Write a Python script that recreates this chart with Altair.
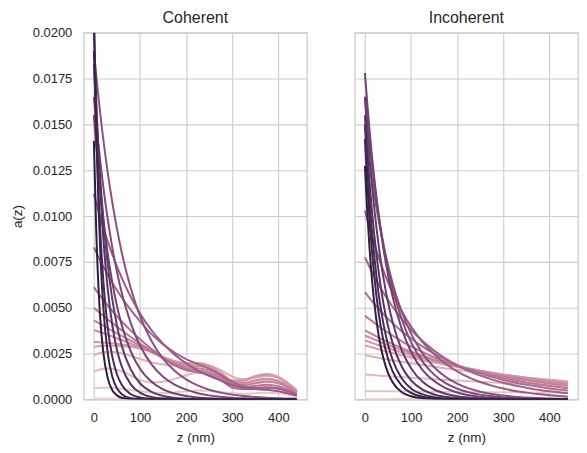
import math
import altair as alt
import pandas as pd

Z_NM = [0, 5, 10, 15, 20, 30, 40, 50, 60, 80, 100, 125, 150, 175, 200,
        225, 250, 275, 300, 325, 350, 375, 400, 420, 440]

# a(z) values below are given in units of 1e-4 per nm
UNIT = 1e-4

# one list per curve, lightest hue first, darkest last
COHERENT = [
    [0.5, 0.5, 0.5, 0.5, 0.5, 0.5, 0.5, 0.4, 0.4, 0.4, 0.3, 0.3, 0.3, 0.4, 0.4, 0.4, 0.4, 0.3, 0.3, 0.3, 0.3, 0.3, 0.3, 0.2, 0.2],
    [6.0, 6.1, 6.3, 6.4, 6.4, 6.4, 6.3, 6.1, 5.8, 5.1, 4.4, 3.7, 3.5, 3.8, 4.4, 4.8, 4.7, 4.0, 3.3, 3.1, 3.4, 3.6, 3.3, 2.7, 2.0],
    [15.0, 15.5, 16.0, 16.4, 16.7, 16.9, 16.7, 16.1, 15.3, 13.0, 10.5, 9.2, 9.6, 11.2, 13.2, 14.5, 14.0, 12.0, 9.6, 8.7, 9.6, 10.5, 9.6, 7.2, 3.8],
    [24.1, 24.6, 25.0, 25.4, 25.7, 26.0, 26.0, 25.7, 25.2, 23.8, 22.0, 20.2, 19.0, 18.5, 18.6, 18.9, 18.3, 16.0, 12.5, 11.0, 11.8, 12.8, 12.0, 9.0, 5.0],
    [28.6, 28.8, 29.0, 29.1, 29.2, 29.3, 29.3, 29.2, 29.0, 28.5, 27.6, 25.8, 23.0, 20.6, 19.6, 19.8, 18.5, 14.8, 10.5, 10.6, 12.8, 13.9, 12.2, 9.0, 4.8],
    [31.3, 31.3, 31.2, 31.1, 31.0, 30.8, 30.6, 30.3, 30.0, 29.2, 28.0, 26.0, 23.2, 21.0, 19.8, 19.6, 18.2, 14.3, 10.0, 10.2, 12.4, 13.4, 11.8, 8.7, 4.6],
    [37.7, 37.4, 37.0, 36.6, 36.2, 35.3, 34.3, 33.3, 32.4, 30.4, 28.4, 25.8, 22.8, 20.2, 18.6, 18.2, 17.0, 13.6, 9.4, 9.0, 10.4, 11.2, 10.0, 7.4, 4.2],
    [43.1, 42.4, 41.7, 41.0, 40.3, 38.8, 37.4, 36.0, 34.7, 32.0, 29.3, 26.0, 22.5, 19.5, 17.6, 17.0, 15.8, 12.8, 8.4, 7.8, 8.8, 9.6, 8.8, 6.6, 3.8],
    [50.0, 48.9, 47.8, 46.7, 45.7, 43.6, 41.6, 39.6, 37.7, 34.0, 30.4, 26.4, 22.4, 19.0, 16.7, 15.8, 14.6, 11.8, 7.4, 6.6, 7.4, 8.0, 7.2, 5.4, 3.0],
    [61.2, 59.4, 57.7, 56.0, 54.4, 51.2, 48.2, 45.3, 42.6, 37.5, 32.8, 27.5, 22.6, 18.6, 16.0, 14.8, 13.4, 10.6, 6.4, 5.6, 6.0, 6.4, 5.8, 4.4, 2.6],
    [82.9, 80.2, 77.6, 75.0, 72.6, 68.0, 63.6, 59.5, 55.7, 48.8, 42.6, 35.6, 30.0, 25.5, 22.0, 19.4, 16.8, 13.4, 9.5, 7.0, 6.4, 6.6, 6.0, 4.6, 2.6],
    [112.0, 107.3, 102.7, 98.3, 94.1, 86.2, 79.1, 72.5, 66.5, 55.9, 46.9, 37.7, 30.4, 24.4, 19.7, 15.8, 12.8, 10.2, 7.8, 6.2, 5.6, 5.2, 4.4, 3.4, 1.9],
    [190, 176.9, 164.7, 153.3, 142.7, 123.7, 107.4, 93.1, 80.6, 60.6, 45.6, 31.9, 22.2, 15.6, 10.9, 7.6, 5.3, 3.7, 2.6, 1.8, 1.3, 0.9, 0.6, 0.5, 0.4],
    [165, 151.3, 138.9, 127.4, 116.8, 98.3, 82.8, 69.6, 58.6, 41.6, 29.4, 19.1, 12.4, 8.1, 5.3, 3.4, 2.2, 1.4, 0.9, 0.6, 0.4, 0.25, 0.15, 0.1, 0.1],
    [155, 138.7, 124.2, 111.1, 99.4, 79.5, 63.7, 51.0, 40.9, 26.2, 16.7, 9.6, 5.5, 3.2, 1.8, 1.0, 0.6, 0.35, 0.2, 0.1, 0.05, 0, 0, 0, 0],
    [183, 157.2, 135.2, 116.2, 99.9, 73.7, 54.5, 40.3, 29.6, 16.3, 8.8, 4.1, 1.9, 0.9, 0.4, 0.2, 0.1, 0.05, 0, 0, 0, 0, 0, 0, 0],
    [200, 163.8, 134.0, 109.8, 89.8, 60.2, 40.4, 27.0, 18.2, 8.2, 3.7, 1.3, 0.5, 0.2, 0.05, 0, 0, 0, 0, 0, 0, 0, 0, 0, 0],
    [190, 146.1, 112.3, 86.3, 66.3, 39.1, 23.2, 13.7, 8.1, 2.8, 1.0, 0.3, 0.1, 0, 0, 0, 0, 0, 0, 0, 0, 0, 0, 0, 0],
    [215, 150.5, 105.4, 73.7, 51.6, 25.2, 12.3, 6.0, 3.0, 0.7, 0.2, 0.05, 0, 0, 0, 0, 0, 0, 0, 0, 0, 0, 0, 0, 0],
    [141, 93, 61, 40, 26.6, 11.6, 5.0, 2.2, 0.9, 0.2, 0.05, 0, 0, 0, 0, 0, 0, 0, 0, 0, 0, 0, 0, 0, 0],
]

INCOHERENT = [
    [0.2, 0.2, 0.2, 0.2, 0.2, 0.2, 0.2, 0.2, 0.2, 0.2, 0.2, 0.2, 0.2, 0.2, 0.2, 0.2, 0.2, 0.2, 0.2, 0.2, 0.2, 0.2, 0.2, 0.2, 0.2],
    [4.5, 4.5, 4.5, 4.5, 4.5, 4.4, 4.4, 4.4, 4.4, 4.3, 4.3, 4.2, 4.2, 4.1, 4.1, 4.0, 4.0, 3.9, 3.9, 3.9, 3.8, 3.8, 3.7, 3.7, 3.7],
    [13.6, 13.5, 13.4, 13.3, 13.2, 13.0, 12.8, 12.7, 12.5, 12.2, 11.8, 11.4, 11.0, 10.6, 10.3, 9.9, 9.6, 9.3, 9.0, 8.6, 8.3, 8.0, 7.8, 7.6, 7.4],
    [24.1, 23.9, 23.6, 23.4, 23.1, 22.7, 22.2, 21.8, 21.3, 20.5, 19.7, 18.7, 17.8, 16.9, 16.1, 15.3, 14.5, 13.8, 13.1, 12.5, 11.8, 11.3, 10.7, 10.3, 9.8],
    [29.5, 29.1, 28.8, 28.4, 28.0, 27.3, 26.6, 25.9, 25.3, 24.0, 22.8, 21.4, 20.1, 18.8, 17.6, 16.5, 15.5, 14.5, 13.6, 12.8, 12.0, 11.2, 10.6, 10.0, 9.5],
    [32.2, 31.7, 31.3, 30.8, 30.4, 29.5, 28.7, 27.9, 27.1, 25.6, 24.1, 22.4, 20.9, 19.4, 18.1, 16.8, 15.6, 14.6, 13.5, 12.6, 11.7, 10.9, 10.1, 9.6, 9.0],
    [34.9, 34.3, 33.8, 33.2, 32.7, 31.7, 30.6, 29.7, 28.7, 26.9, 25.2, 23.2, 21.4, 19.8, 18.2, 16.8, 15.5, 14.2, 13.1, 12.1, 11.2, 10.3, 9.5, 8.9, 8.3],
    [37.7, 37.0, 36.3, 35.7, 35.0, 33.7, 32.5, 31.3, 30.2, 28.0, 26.1, 23.8, 21.7, 19.8, 18.0, 16.4, 15.0, 13.6, 12.5, 11.3, 10.4, 9.5, 8.6, 8.0, 7.4],
    [45.8, 44.7, 43.7, 42.8, 41.8, 39.9, 38.1, 36.4, 34.8, 31.7, 28.9, 25.8, 23.0, 20.5, 18.3, 16.3, 14.6, 13.0, 11.6, 10.3, 9.2, 8.2, 7.3, 6.7, 6.1],
    [58.5, 56.9, 55.3, 53.7, 52.2, 49.3, 46.6, 44.0, 41.6, 37.1, 33.2, 28.8, 24.9, 21.6, 18.8, 16.3, 14.2, 12.3, 10.6, 9.2, 8.0, 7.0, 6.0, 5.4, 4.8],
    [77.5, 74.8, 72.2, 69.6, 67.2, 62.5, 58.2, 54.3, 50.5, 43.8, 38.0, 31.8, 26.6, 22.2, 18.6, 15.5, 13.0, 10.9, 9.1, 7.6, 6.4, 5.3, 4.4, 3.9, 3.3],
    [102.9, 98.1, 93.5, 89.2, 85.1, 77.3, 70.3, 63.9, 58.1, 48.1, 39.7, 31.3, 24.7, 19.4, 15.3, 12.0, 9.5, 7.5, 5.9, 4.6, 3.7, 2.9, 2.3, 1.9, 1.5],
    [149.6, 139.3, 129.7, 120.7, 112.3, 97.4, 84.5, 73.3, 63.4, 47.7, 35.9, 25.1, 17.5, 12.3, 8.6, 6.0, 4.2, 2.9, 2.1, 1.4, 1.0, 0.7, 0.5, 0.4, 0.3],
    [165, 151.8, 139.6, 128.5, 118.3, 100.2, 84.6, 71.8, 60.7, 43.6, 31.2, 20.6, 13.5, 8.9, 5.9, 3.9, 2.6, 1.7, 1.1, 0.7, 0.5, 0.3, 0.2, 0.15, 0.1],
    [178, 161.6, 146.9, 133.3, 121.2, 100.0, 82.4, 68.0, 56.1, 38.3, 26.0, 16.0, 10.0, 6.2, 3.8, 2.3, 1.5, 0.9, 0.55, 0.35, 0.2, 0.13, 0.08, 0.05, 0.04],
    [165, 147.3, 131.5, 117.3, 104.8, 83.5, 66.5, 53.0, 42.2, 26.7, 17.0, 9.6, 5.4, 3.1, 1.75, 1.0, 0.56, 0.3, 0.2, 0.1, 0.05, 0, 0, 0, 0],
    [155, 135.5, 118.3, 103.4, 90.4, 69.0, 52.5, 40.1, 30.7, 17.8, 10.4, 5.3, 2.7, 1.4, 0.7, 0.35, 0.2, 0.1, 0.05, 0, 0, 0, 0, 0, 0],
    [150, 127.7, 108.6, 92.4, 78.8, 57.0, 41.3, 29.9, 21.6, 11.4, 6.0, 2.7, 1.2, 0.5, 0.25, 0.1, 0.05, 0, 0, 0, 0, 0, 0, 0, 0],
    [142, 118.0, 98.0, 81.5, 67.7, 46.7, 32.2, 22.3, 15.3, 7.4, 3.5, 1.4, 0.55, 0.2, 0.1, 0, 0, 0, 0, 0, 0, 0, 0, 0, 0],
    [127.3, 102.5, 82.4, 66.3, 53.3, 34.5, 22.4, 14.5, 9.4, 3.9, 1.7, 0.6, 0.2, 0.1, 0, 0, 0, 0, 0, 0, 0, 0, 0, 0, 0],
]

X_TICKS = [0, 100, 200, 300, 400]
Y_TICKS = [0.0, 0.0025, 0.005, 0.0075, 0.01, 0.0125, 0.015, 0.0175, 0.02]
PANELS = ["Coherent", "Incoherent"]
PANEL_DATA = {"Coherent": COHERENT, "Incoherent": INCOHERENT}


def cubehelix_hex(x, start=0.0, rot=0.4, gamma=1.0, hue=0.8):
    xg = x ** gamma
    a = hue * xg * (1 - xg) / 2
    phi = 2 * math.pi * (start / 3 + rot * x)
    r = xg + a * (-0.14861 * math.cos(phi) + 1.78277 * math.sin(phi))
    g = xg + a * (-0.29227 * math.cos(phi) - 0.90649 * math.sin(phi))
    b = xg + a * (1.97294 * math.cos(phi))
    return "#" + "".join("%02x" % int(round(min(1, max(0, c)) * 255)) for c in (r, g, b))


N = len(COHERENT)
COLORS = [cubehelix_hex(0.85 - 0.70 * i / (N - 1)) for i in range(N)]

FONT = "Liberation Sans"
TXT = "#262626"

rows = []
for p in PANELS:
    for k, vals in enumerate(PANEL_DATA[p]):
        for z, v in zip(Z_NM, vals):
            rows.append({"panel": p, "k": k, "z": z, "a": v * UNIT})
df = pd.DataFrame(rows)

base = (
    alt.Chart(df)
    .mark_line(strokeWidth=2, clip=True, interpolate="monotone")
    .encode(
        x=alt.X("z:Q", scale=alt.Scale(domain=[-22, 462], nice=False, zero=False),
                axis=alt.Axis(values=X_TICKS, title="z (nm)")),
        y=alt.Y("a:Q", scale=alt.Scale(domain=[0, 0.02], nice=False),
                axis=alt.Axis(values=Y_TICKS, format=".4f", title="a(z)", titlePadding=8)),
        color=alt.Color("k:O", scale=alt.Scale(domain=list(range(N)), range=COLORS), legend=None),
    )
    .properties(width=224, height=368)
)

chart = (
    base.facet(
        column=alt.Column(
            "panel:N", sort=PANELS,
            header=alt.Header(title=None, labelFontSize=16, labelFont=FONT, labelColor=TXT,
                              labelPadding=6, labelOrient="top"),
        ),
        spacing=46,
    )
    .properties(padding={"left": 2, "top": 1, "right": 0, "bottom": 0})
    .configure_view(stroke="#cccccc", strokeWidth=1.3)
    .configure_axis(
        grid=True, gridColor="#cccccc", gridWidth=1.1, domain=False,
        tickSize=0, labelPadding=11,
        labelFont=FONT, labelFontSize=13, labelColor=TXT,
        titleFont=FONT, titleFontSize=13.5, titleColor=TXT, titleFontWeight="normal",
        titlePadding=6,
    )
)

chart.save("out.html", embed_options={"renderer": "svg", "actions": False})
